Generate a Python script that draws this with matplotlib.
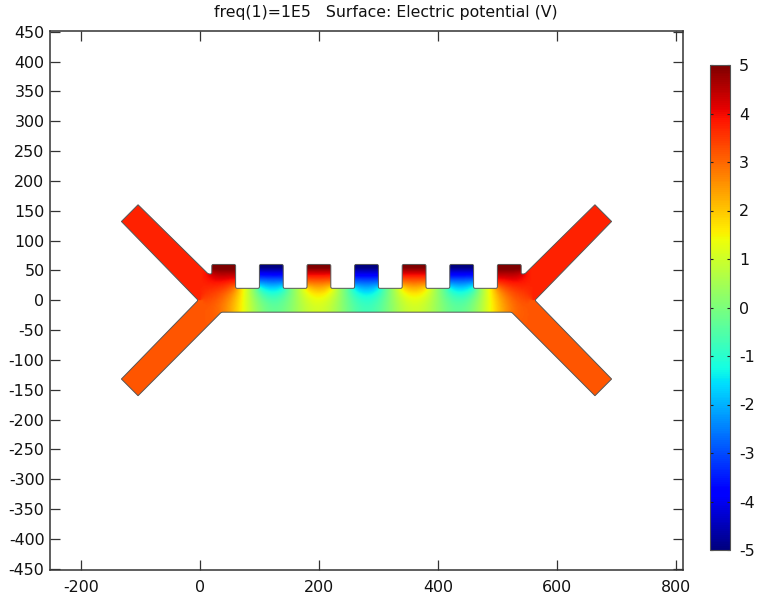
import numpy as np
import matplotlib
matplotlib.use("Agg")
import matplotlib.pyplot as plt
from matplotlib.path import Path
from matplotlib.patches import PathPatch

plt.rcParams["axes.unicode_minus"] = False

W, H = 758, 596
# geometry outline (data units)
outline_x = [-104, -132, -3, -132, -104, 36, 524, 664, 692, 563, 692, 664, 546, 540, 540, 500, 500, 460, 460, 420, 420,
             380, 380, 340, 340, 300, 300, 260, 260, 220, 220, 180, 180, 140, 140, 100, 100, 60, 60, 20, 20, 14]
outline_y = [160, 132, 0, -132, -160, -20, -20, -160, -132, 0, 132, 160, 44, 44, 60, 60, 20, 20, 60, 60, 20,
             20, 60, 60, 20, 20, 60, 60, 20, 20, 60, 60, 20, 20, 60, 60, 20, 20, 60, 60, 44, 44]
sharp_vertices = [0, 1, 3, 4, 7, 8, 10, 11]
# electrodes: tooth spans and their potentials (V)
tooth_left = [20, 100, 180, 260, 340, 420, 500]
tooth_right = [60, 140, 220, 300, 380, 460, 540]
tooth_volts = [5.4, -5.4, 5.4, -5.4, 5.4, -5.4, 5.4]
upper_arm_volts = 3.72
lower_arm_volts = 3.18
x_ticks = [-200, 0, 200, 400, 600, 800]
y_ticks = list(range(-450, 451, 50))
cbar_ticks = [-5, -4, -3, -2, -1, 0, 1, 2, 3, 4, 5]
title = "freq(1)=1E5   Surface: Electric potential (V)"

verts = np.column_stack([outline_x, outline_y]).astype(float)
poly = Path(np.vstack([verts, verts[:1]]), closed=True)

# solve the potential inside the outline from the electrode values
step = 2.0
gx = np.arange(-140, 701, step)
gy = np.arange(-170, 171, step)
X, Y = np.meshgrid(gx, gy)
inside = poly.contains_points(np.column_stack([X.ravel(), Y.ravel()]), radius=0.01).reshape(X.shape)
fixed = np.zeros_like(inside)
U = np.zeros_like(X)
U[X < 280] = 1.0
for l, r, v in zip(tooth_left, tooth_right, tooth_volts):
    m = (X >= l) & (X <= r) & (Y >= 58)
    U[m] = v
    fixed |= m
for arm_mask, v in [((Y >= 0) & (X < 2), upper_arm_volts), ((Y < 0) & (X < 6), lower_arm_volts),
                    ((Y >= 0) & (X > 558), upper_arm_volts), ((Y < 0) & (X > 554), lower_arm_volts)]:
    U[arm_mask] = v
    fixed |= arm_mask
fixed &= inside
for it in range(9000):
    nb = np.zeros_like(U)
    cnt = np.zeros_like(U)
    nb[1:] += U[:-1] * inside[:-1]; cnt[1:] += inside[:-1]
    nb[:-1] += U[1:] * inside[1:]; cnt[:-1] += inside[1:]
    nb[:, 1:] += U[:, :-1] * inside[:, :-1]; cnt[:, 1:] += inside[:, :-1]
    nb[:, :-1] += U[:, 1:] * inside[:, 1:]; cnt[:, :-1] += inside[:, 1:]
    new = U.copy()
    free = inside & ~fixed & (cnt > 0)
    new[free] = nb[free] / cnt[free]
    U = new
# extend values just past the outline so the clipped image has no gaps
known = inside.copy()
for _ in range(5):
    nb = np.zeros_like(U)
    cnt = np.zeros_like(U)
    nb[1:] += U[:-1] * known[:-1]; cnt[1:] += known[:-1]
    nb[:-1] += U[1:] * known[1:]; cnt[:-1] += known[1:]
    nb[:, 1:] += U[:, :-1] * known[:, :-1]; cnt[:, 1:] += known[:, :-1]
    nb[:, :-1] += U[:, 1:] * known[:, 1:]; cnt[:, :-1] += known[:, 1:]
    grow = ~known & (cnt > 0)
    U[grow] = nb[grow] / cnt[grow]
    known |= grow
U = np.where(known, U, 0.0)

fig = plt.figure(figsize=(W / 100, H / 100), dpi=100)
def box(l, t, r, b):
    return [l / W, 1 - b / H, (r - l) / W, (b - t) / H]

ax = fig.add_axes(box(50, 30.5, 683, 570))
im = ax.imshow(U, origin="lower", extent=[gx[0] - 1, gx[-1] + 1, gy[0] - 1, gy[-1] + 1],
               cmap="jet", vmin=-5, vmax=5, interpolation="bilinear", aspect="auto")

# outline with small fillets on the non-sharp corners
n = len(verts)
rad = 2.5
pts, codes = [], []
for i in range(n):
    p = verts[i]
    if i in sharp_vertices:
        pts.append(p); codes.append(Path.LINETO)
    else:
        a, b = verts[i - 1], verts[(i + 1) % n]
        pa = p + (a - p) / np.linalg.norm(a - p) * rad
        pb = p + (b - p) / np.linalg.norm(b - p) * rad
        pts += [pa, p, pb]
        codes += [Path.LINETO, Path.CURVE3, Path.CURVE3]
codes[0] = Path.MOVETO
pts.append(pts[0]); codes.append(Path.CLOSEPOLY)
shape = Path(np.array(pts), codes)
patch = PathPatch(shape, fc="none", ec="#555555", lw=0.7, zorder=3)
ax.add_patch(patch)
im.set_clip_path(patch)

ax.set_xlim(-252, 812)
ax.set_ylim(-452, 452)
ax.set_xticks(x_ticks)
ax.set_yticks(y_ticks)
ax.tick_params(direction="in", length=7, width=0.9, color="#333333", top=True, right=True,
               labelsize=11.4, labelcolor="#111111")
ax.tick_params(axis="y", pad=4)
ax.tick_params(axis="x", pad=7)
for s in ax.spines.values():
    s.set_linewidth(1.1)
    s.set_color("#333333")
fig.text(385.5 / W, 1 - 13 / H, title, ha="center", va="center", fontsize=11.35, color="#111111")

cax = fig.add_axes(box(710, 65, 730, 550))
cb = fig.colorbar(im, cax=cax)
cb.set_ticks(cbar_ticks)
cax.tick_params(direction="in", length=2.5, width=0.8, color="#222222", left=True, right=True,
                labelsize=11.4, labelcolor="#111111", pad=6.5)
cb.outline.set_linewidth(0.8)
cb.outline.set_edgecolor("#555555")

fig.savefig("out.png", dpi=100)
